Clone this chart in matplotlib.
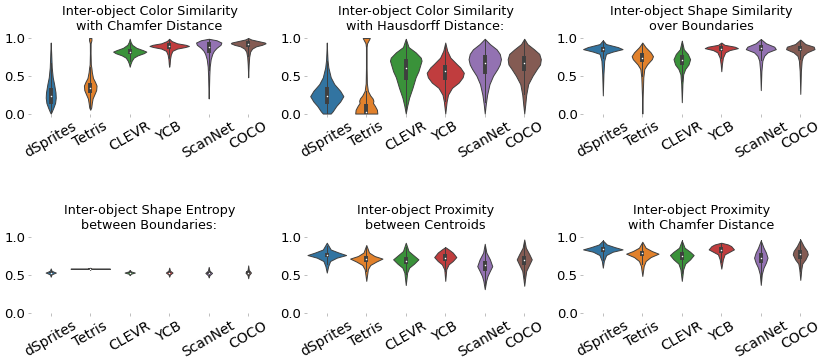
import matplotlib as mpl

mpl.use('Agg')
import matplotlib.pyplot as plt
import numpy as np

datasets = ['dSprites', 'Tetris', 'CLEVR', 'YCB', 'ScanNet', 'COCO']
colors = ['#3274a1', '#e1812c', '#3a923a', '#c03d3e', '#9372b2', '#845b53']
titles = ['Inter-object Color Similarity\nwith Chamfer Distance',
          'Inter-object Color Similarity\nwith Hausdorff Distance:',
          'Inter-object Shape Similarity\nover Boundaries',
          'Inter-object Shape Entropy\nbetween Boundaries:',
          'Inter-object Proximity\nbetween Centroids',
          'Inter-object Proximity\nwith Chamfer Distance']

# violin outlines: (value, half width) from top to bottom
color_chamfer = [
    [(0.94, 0), (0.79, 0.012), (0.61, 0.025), (0.48, 0.05), (0.39, 0.085), (0.28, 0.12), (0.21, 0.127),
     (0.14, 0.11), (0.08, 0.068), (0.02, 0.02), (0.0, 0)],
    [(1.0, 0.03), (0.97, 0.03), (0.93, 0.01), (0.8, 0.008), (0.65, 0.015), (0.6, 0.03), (0.55, 0.04),
     (0.47, 0.07), (0.42, 0.12), (0.37, 0.16), (0.31, 0.15), (0.26, 0.11), (0.2, 0.06), (0.14, 0.04),
     (0.08, 0.025), (0.05, 0)],
    [(0.99, 0), (0.95, 0.02), (0.91, 0.06), (0.87, 0.17), (0.84, 0.33), (0.82, 0.42), (0.80, 0.36),
     (0.77, 0.2), (0.74, 0.1), (0.7, 0.05), (0.66, 0.02), (0.62, 0)],
    [(0.99, 0), (0.96, 0.06), (0.93, 0.2), (0.91, 0.42), (0.895, 0.5), (0.88, 0.4), (0.86, 0.2),
     (0.83, 0.08), (0.78, 0.04), (0.72, 0.02), (0.65, 0.01), (0.62, 0)],
    [(0.99, 0), (0.97, 0.2), (0.94, 0.32), (0.91, 0.3), (0.87, 0.2), (0.83, 0.13), (0.79, 0.09),
     (0.72, 0.05), (0.62, 0.025), (0.5, 0.015), (0.35, 0.008), (0.2, 0)],
    [(1.0, 0), (0.98, 0.08), (0.96, 0.25), (0.94, 0.42), (0.93, 0.44), (0.91, 0.35), (0.89, 0.2),
     (0.86, 0.1), (0.82, 0.05), (0.75, 0.025), (0.65, 0.012), (0.48, 0)],
]
color_chamfer_box = [(0.12, 0.23, 0.34), (0.27, 0.34, 0.41), (0.79, 0.82, 0.85),
                     (0.85, 0.89, 0.93), (0.80, 0.88, 0.95), (0.88, 0.92, 0.96)]

color_hausdorff = [
    [(0.94, 0), (0.8, 0.01), (0.7, 0.02), (0.61, 0.04), (0.48, 0.1), (0.39, 0.19), (0.3, 0.34),
     (0.23, 0.42), (0.16, 0.34), (0.1, 0.24), (0.03, 0.15), (0.0, 0.1)],
    [(1.0, 0.09), (0.97, 0.06), (0.93, 0.02), (0.88, 0.008), (0.6, 0.008), (0.4, 0.015), (0.3, 0.04),
     (0.24, 0.1), (0.2, 0.16), (0.17, 0.18), (0.14, 0.17), (0.1, 0.22), (0.05, 0.27), (0.0, 0.28)],
    [(0.99, 0), (0.88, 0.07), (0.81, 0.25), (0.74, 0.38), (0.7, 0.4), (0.63, 0.36), (0.56, 0.32),
     (0.48, 0.25), (0.34, 0.17), (0.21, 0.085), (0.1, 0.035), (0.0, 0)],
    [(0.94, 0), (0.83, 0.05), (0.74, 0.13), (0.65, 0.3), (0.61, 0.38), (0.54, 0.47), (0.48, 0.44),
     (0.41, 0.34), (0.34, 0.17), (0.25, 0.07), (0.16, 0.035), (0.0, 0)],
    [(0.99, 0), (0.92, 0.13), (0.85, 0.3), (0.79, 0.38), (0.72, 0.41), (0.65, 0.38), (0.59, 0.32),
     (0.5, 0.21), (0.39, 0.12), (0.25, 0.06), (0.12, 0.025), (0.0, 0)],
    [(0.99, 0), (0.92, 0.08), (0.85, 0.25), (0.79, 0.38), (0.72, 0.42), (0.65, 0.4), (0.59, 0.32),
     (0.5, 0.21), (0.39, 0.1), (0.25, 0.05), (0.12, 0.025), (0.0, 0)],
]
color_hausdorff_box = [(0.12, 0.23, 0.35), (0.0, 0.02, 0.12), (0.45, 0.6, 0.72),
                       (0.45, 0.56, 0.64), (0.53, 0.67, 0.78), (0.56, 0.67, 0.76)]

shape_similarity = [
    [(0.97, 0), (0.92, 0.08), (0.88, 0.38), (0.853, 0.5), (0.82, 0.25), (0.79, 0.08), (0.7, 0.035),
     (0.52, 0.015), (0.24, 0)],
    [(0.94, 0), (0.88, 0.08), (0.81, 0.21), (0.76, 0.27), (0.72, 0.24), (0.65, 0.12), (0.59, 0.05),
     (0.48, 0.025), (0.25, 0.01), (0.0, 0)],
    [(0.965, 0), (0.85, 0.05), (0.79, 0.15), (0.72, 0.21), (0.65, 0.17), (0.59, 0.085), (0.52, 0.035),
     (0.39, 0.015), (0.15, 0)],
    [(0.94, 0), (0.91, 0.08), (0.885, 0.34), (0.866, 0.42), (0.84, 0.21), (0.81, 0.1), (0.74, 0.04),
     (0.65, 0.015), (0.56, 0)],
    [(0.987, 0), (0.93, 0.13), (0.885, 0.34), (0.853, 0.38), (0.81, 0.17), (0.764, 0.085), (0.7, 0.04),
     (0.56, 0.015), (0.31, 0)],
    [(0.98, 0), (0.92, 0.13), (0.885, 0.34), (0.853, 0.36), (0.81, 0.17), (0.764, 0.07), (0.7, 0.035),
     (0.56, 0.015), (0.26, 0)],
]
shape_similarity_box = [(0.82, 0.85, 0.88), (0.68, 0.74, 0.80), (0.64, 0.71, 0.78),
                        (0.83, 0.86, 0.89), (0.83, 0.87, 0.91), (0.83, 0.86, 0.90)]

shape_entropy = [
    [(0.59, 0), (0.56, 0.02), (0.545, 0.08), (0.535, 0.13), (0.525, 0.08), (0.51, 0.02), (0.48, 0)],
    [(0.6, 0), (0.59, 0.01), (0.586, 0.5), (0.582, 0.01), (0.572, 0)],
    [(0.57, 0), (0.55, 0.03), (0.535, 0.13), (0.52, 0.03), (0.5, 0)],
    [(0.6, 0), (0.56, 0.02), (0.535, 0.085), (0.51, 0.02), (0.48, 0)],
    [(0.61, 0), (0.56, 0.02), (0.53, 0.085), (0.5, 0.02), (0.47, 0)],
    [(0.63, 0), (0.57, 0.015), (0.535, 0.07), (0.5, 0.015), (0.46, 0)],
]
shape_entropy_box = [(0.525, 0.535, 0.545), (0.582, 0.586, 0.59), (0.528, 0.535, 0.542),
                     (0.525, 0.535, 0.545), (0.515, 0.53, 0.545), (0.52, 0.535, 0.55)]

proximity_centroids = [
    [(0.93, 0), (0.84, 0.1), (0.8, 0.3), (0.767, 0.49), (0.732, 0.25), (0.688, 0.085), (0.62, 0.035),
     (0.535, 0)],
    [(0.9, 0), (0.8, 0.07), (0.754, 0.21), (0.72, 0.41), (0.68, 0.25), (0.635, 0.1), (0.578, 0.04),
     (0.425, 0)],
    [(0.93, 0), (0.82, 0.07), (0.767, 0.19), (0.71, 0.32), (0.653, 0.21), (0.6, 0.085), (0.535, 0.035),
     (0.37, 0)],
    [(0.872, 0), (0.842, 0.085), (0.8, 0.19), (0.74, 0.28), (0.688, 0.19), (0.644, 0.085), (0.578, 0.025),
     (0.425, 0)],
    [(0.916, 0), (0.8, 0.04), (0.71, 0.13), (0.62, 0.19), (0.557, 0.13), (0.49, 0.07), (0.425, 0.035),
     (0.315, 0)],
    [(0.973, 0), (0.864, 0.04), (0.776, 0.13), (0.71, 0.19), (0.644, 0.13), (0.557, 0.05), (0.469, 0.025),
     (0.36, 0)],
]
proximity_centroids_box = [(0.74, 0.77, 0.80), (0.67, 0.71, 0.75), (0.65, 0.69, 0.74),
                           (0.69, 0.73, 0.78), (0.56, 0.63, 0.69), (0.64, 0.70, 0.76)]

proximity_chamfer = [
    [(0.96, 0), (0.907, 0.1), (0.872, 0.3), (0.842, 0.5), (0.811, 0.25), (0.767, 0.085), (0.688, 0.025),
     (0.6, 0)],
    [(0.943, 0), (0.864, 0.085), (0.82, 0.24), (0.785, 0.41), (0.74, 0.21), (0.688, 0.085), (0.622, 0.035),
     (0.49, 0)],
    [(0.96, 0), (0.864, 0.07), (0.81, 0.21), (0.767, 0.3), (0.71, 0.21), (0.653, 0.085), (0.578, 0.035),
     (0.425, 0)],
    [(0.93, 0), (0.907, 0.17), (0.885, 0.25), (0.842, 0.32), (0.811, 0.21), (0.776, 0.085), (0.71, 0.04),
     (0.587, 0)],
    [(0.96, 0), (0.864, 0.07), (0.8, 0.13), (0.732, 0.17), (0.666, 0.13), (0.6, 0.07), (0.513, 0.025),
     (0.372, 0)],
    [(0.973, 0), (0.885, 0.085), (0.82, 0.17), (0.776, 0.19), (0.71, 0.13), (0.653, 0.05), (0.578, 0.025),
     (0.438, 0)],
]
proximity_chamfer_box = [(0.81, 0.85, 0.88), (0.75, 0.79, 0.82), (0.70, 0.76, 0.81),
                         (0.80, 0.84, 0.88), (0.66, 0.73, 0.80), (0.72, 0.78, 0.83)]

panels = [(color_chamfer, color_chamfer_box), (color_hausdorff, color_hausdorff_box),
          (shape_similarity, shape_similarity_box), (shape_entropy, shape_entropy_box),
          (proximity_centroids, proximity_centroids_box), (proximity_chamfer, proximity_chamfer_box)]

edge = '#3f3f3f'

fig, axes = plt.subplots(2, 3, figsize=(8.31, 3.62), dpi=100)
plt.subplots_adjust(left=0.0373, right=0.9868, top=0.895, bottom=0.1354, wspace=0.165, hspace=1.64)

for ax, title, (outlines, boxes) in zip(axes.flat, titles, panels):
    for i, (knots, (q1, med, q3)) in enumerate(zip(outlines, boxes)):
        ys = np.array([k[0] for k in knots])
        ws = np.array([k[1] for k in knots])
        ax.fill_betweenx(ys, i - ws, i + ws, facecolor=colors[i], edgecolor=edge, lw=0.7, zorder=2)
        iqr = q3 - q1
        lo = max(ys.min(), q1 - 1.5 * iqr)
        hi = min(ys.max(), q3 + 1.5 * iqr)
        ax.plot([i, i], [lo, hi], color=edge, lw=0.7, zorder=3)
        ax.plot([i, i], [q1, q3], color=edge, lw=2.8, solid_capstyle='butt', zorder=3)
        ax.scatter([i], [med], s=1.2, color='white', zorder=4, linewidths=0)

    ax.set_xlim(-0.5, 5.5)
    ax.set_ylim(0, 1.0)
    ax.set_yticks([0.0, 0.5, 1.0])
    ax.set_yticklabels(['0.0', '0.5', '1.0'], fontsize=9.5)
    ax.set_xticks(range(len(datasets)))
    ax.set_xticklabels(datasets, rotation=30, fontsize=10)
    ax.tick_params(length=2, width=0.6, color='0.7', pad=2)
    for s in ax.spines.values():
        s.set_visible(False)
    ax.set_title(title, fontsize=9.2)

plt.savefig('out.png')
